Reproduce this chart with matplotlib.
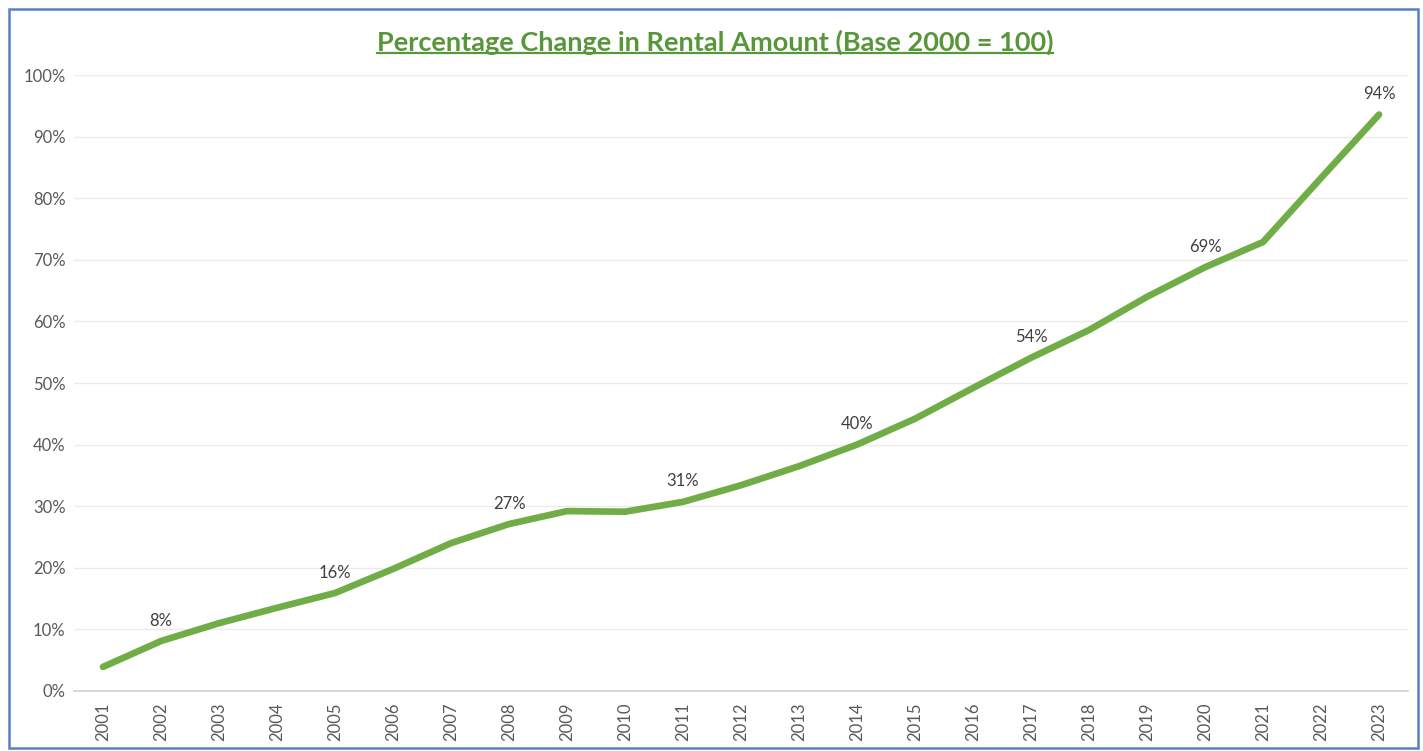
import matplotlib
matplotlib.use('Agg')
import matplotlib.pyplot as plt
from matplotlib.patches import Rectangle
from matplotlib.lines import Line2D
from matplotlib.ticker import PercentFormatter

years = list(range(2001, 2024))
pct_change = [3.9, 8.1, 11.0, 13.5, 15.9, 19.8, 24.0, 27.1, 29.2, 29.1,
              30.7, 33.4, 36.5, 40.0, 44.2, 49.2, 54.1, 58.6, 64.0, 68.8,
              72.9, 83.3, 93.6]
label_years = [2002, 2005, 2008, 2011, 2014, 2017, 2020, 2023]

GREEN = '#70AD47'
TITLE_GREEN = '#58963A'
GREY = '#595959'

plt.rcParams['font.family'] = ['Lato', 'DejaVu Sans']

fig = plt.figure(figsize=(14.23, 7.51), dpi=100)
ax = fig.add_axes([0.052, 0.080, 0.9375, 0.820])

ax.plot(years, pct_change, color=GREEN, linewidth=4.8,
        solid_capstyle='round', solid_joinstyle='round', zorder=3)

for yr, v in zip(years, pct_change):
    if yr in label_years:
        ax.annotate(f'{v:.0f}%', (yr, v), xytext=(0, 9),
                    textcoords='offset points', ha='center', va='bottom',
                    fontsize=12, color='#404040')

ax.set_xlim(2000.5, 2023.5)
ax.set_ylim(0, 100)
ax.set_yticks(range(0, 101, 10))
ax.yaxis.set_major_formatter(PercentFormatter(decimals=0))
ax.set_xticks(years)
ax.set_xticklabels([str(y) for y in years], rotation=90)
ax.tick_params(axis='both', length=0, labelsize=12, labelcolor=GREY)
ax.tick_params(axis='x', pad=8)
ax.tick_params(axis='y', pad=6)
ax.grid(axis='y', color='#EBEBEB', linewidth=1.0, zorder=0)
for s in ['top', 'right', 'left']:
    ax.spines[s].set_visible(False)
ax.spines['bottom'].set_color('#D0D0D0')
ax.spines['bottom'].set_linewidth(1.2)

title = fig.text(0.5025, 0.944, 'Percentage Change in Rental Amount (Base 2000 = 100)',
                 ha='center', va='center', fontsize=19.5, fontweight='bold',
                 color=TITLE_GREEN)

# underline the title
fig.canvas.draw()
bb = title.get_window_extent(renderer=fig.canvas.get_renderer())
bb = bb.transformed(fig.transFigure.inverted())
fig.add_artist(Line2D([bb.x0, bb.x1], [bb.y0 + 0.002, bb.y0 + 0.002],
                      transform=fig.transFigure, color=TITLE_GREEN, linewidth=1.6))

# blue frame around chart
fig.add_artist(Rectangle((0.006, 0.004), 0.9905, 0.984, transform=fig.transFigure,
                         fill=False, edgecolor='#5B7FC7', linewidth=1.8))

fig.savefig('out.png', dpi=100)
